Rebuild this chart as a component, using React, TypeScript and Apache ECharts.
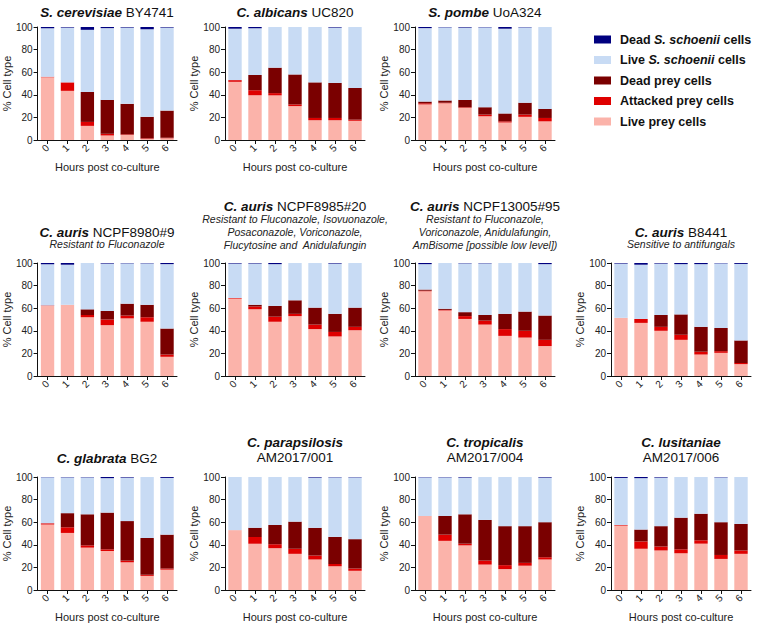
import React, { useEffect, useRef } from "react";
import * as echarts from "echarts";

const HOURS = ["0", "1", "2", "3", "4", "5", "6"];

// Each panel: live prey, attacked prey, dead prey, live S. schoenii, dead S. schoenii (%)
const scerLive = [55.5, 43.5, 12.5, 4, 4.5, 1, 1.5];
const scerAtt = [0.5, 7.5, 3.5, 1.5, 0.5, 0.5, 0.5];
const scerDead = [0, 0, 26.5, 30, 27, 19, 24];
const scerLiveS = [43, 48.5, 55, 63.5, 67.5, 77.5, 73.5];
const scerDeadS = [1, 0.5, 2.5, 1, 0.5, 2, 0.5];

const albLive = [51.5, 39.5, 39.5, 30, 17.5, 17.5, 17];
const albAtt = [1.5, 4.5, 2, 1.5, 2, 2, 1];
const albDead = [0, 13.5, 22.5, 26.5, 31.5, 31, 28];
const albLiveS = [45.5, 41.5, 36, 42, 49, 49, 54];
const albDeadS = [1.5, 1, 0, 0, 0, 0.5, 0];

const pomLive = [31.5, 32.5, 28.5, 21, 15.5, 20.5, 16.5];
const pomAtt = [1, 0.5, 0.5, 1.5, 1, 2, 3];
const pomDead = [1.5, 2, 6.5, 6.5, 7, 10.5, 8];
const pomLiveS = [65, 64.7, 64, 70.7, 75, 66.7, 72.5];
const pomDeadS = [1, 0.3, 0.5, 0.3, 1.5, 0.3, 0];

const a8980Live = [62, 63, 52, 45, 51, 48, 17];
const a8980Att = [0.5, 0, 2, 5, 2.5, 4, 2];
const a8980Dead = [0, 0, 5, 7.5, 10.5, 11, 23];
const a8980LiveS = [36.5, 35.5, 41, 42, 35.7, 36.7, 57];
const a8980DeadS = [1, 1.5, 0, 0.5, 0.3, 0.3, 1];

const a8985Live = [68.5, 59, 48, 53, 41.5, 35, 40.5];
const a8985Att = [0.5, 2.5, 4.5, 2, 4, 4, 3];
const a8985Dead = [0, 1.5, 9.5, 12, 15, 16, 17];
const a8985LiveS = [30.5, 36.5, 37, 33, 39.5, 44.5, 39.5];
const a8985DeadS = [0.5, 0.5, 1, 0, 0, 0.5, 0];

const a13005Live = [75, 58, 50.5, 45.5, 35.5, 34, 26.5];
const a13005Att = [0.5, 0.5, 2.5, 3.5, 6, 6, 5.5];
const a13005Dead = [1, 1, 3.5, 5, 13.5, 17, 21.5];
const a13005LiveS = [22.5, 40.5, 43.2, 45.7, 45, 43, 45.5];
const a13005DeadS = [1, 0, 0.3, 0.3, 0, 0, 1];

const b8441Live = [51.5, 47, 40, 32, 19, 20.5, 10.5];
const b8441Att = [0, 3.5, 3.5, 4.5, 2.5, 1.5, 1];
const b8441Dead = [0, 0, 10.5, 18, 22, 20.5, 20];
const b8441LiveS = [48, 48, 45.5, 44.5, 55.5, 57.2, 67.7];
const b8441DeadS = [0.5, 1.5, 0.5, 1, 1, 0.3, 0.8];

const glaLive = [58, 50.5, 37.5, 34.5, 24.5, 12.5, 18];
const glaAtt = [1, 5, 2, 1.5, 1.5, 1, 1];
const glaDead = [0, 12.5, 27.5, 32.5, 35, 32.5, 30];
const glaLiveS = [40.7, 31.7, 32.7, 30.5, 38.5, 54, 50.2];
const glaDeadS = [0.3, 0.3, 0.3, 1, 0.5, 0, 0.8];

const parLive = [53, 41, 37, 32, 27, 21, 17];
const parAtt = [0, 6, 3.5, 4.5, 3.5, 2, 2];
const parDead = [0, 8, 17, 24, 24.5, 24, 26];
const parLiveS = [47, 45, 42.5, 39.5, 44.5, 52.7, 54.7];
const parDeadS = [0, 0, 0, 0, 0.5, 0.3, 0.3];

const troLive = [65.5, 43.5, 39.5, 22.5, 18.5, 21.5, 27];
const troAtt = [0, 5.5, 1.5, 3.5, 3.5, 2.5, 2];
const troDead = [0, 16.5, 26, 36, 34.5, 32.5, 31];
const troLiveS = [34.2, 34.2, 32.5, 38, 43.5, 43.5, 39.5];
const troDeadS = [0.3, 0.3, 0.5, 0, 0, 0, 0.5];

const lusLive = [57, 36.5, 35, 32.5, 41, 27.5, 32];
const lusAtt = [0.5, 6.5, 3.5, 3.5, 3, 3.5, 3];
const lusDead = [0, 10.5, 18, 28, 23.5, 29, 23.5];
const lusLiveS = [41.7, 45.5, 43, 36, 32.5, 39.7, 41.5];
const lusDeadS = [0.8, 1, 0.5, 0, 0, 0.3, 0];

const SERIES_NAMES = [
  "Live prey cells",
  "Attacked prey cells",
  "Dead prey cells",
  "Live S. schoenii cells",
  "Dead S. schoenii cells",
];
const LEGEND_ORDER = [
  "Dead S. schoenii cells",
  "Live S. schoenii cells",
  "Dead prey cells",
  "Attacked prey cells",
  "Live prey cells",
];
const COLORS = ["#fbb3aa", "#df0000", "#7a0000", "#c8dbf4", "#00007f"];

const PANEL_DATA = [
  [scerLive, scerAtt, scerDead, scerLiveS, scerDeadS],
  [albLive, albAtt, albDead, albLiveS, albDeadS],
  [pomLive, pomAtt, pomDead, pomLiveS, pomDeadS],
  [a8980Live, a8980Att, a8980Dead, a8980LiveS, a8980DeadS],
  [a8985Live, a8985Att, a8985Dead, a8985LiveS, a8985DeadS],
  [a13005Live, a13005Att, a13005Dead, a13005LiveS, a13005DeadS],
  [b8441Live, b8441Att, b8441Dead, b8441LiveS, b8441DeadS],
  [glaLive, glaAtt, glaDead, glaLiveS, glaDeadS],
  [parLive, parAtt, parDead, parLiveS, parDeadS],
  [troLive, troAtt, troDead, troLiveS, troDeadS],
  [lusLive, lusAtt, lusDead, lusLiveS, lusDeadS],
];

const SPECIES = [
  "S. cerevisiae", "C. albicans", "S. pombe",
  "C. auris", "C. auris", "C. auris", "C. auris",
  "C. glabrata", "C. parapsilosis", "C. tropicalis", "C. lusitaniae",
];
const STRAINS = [
  "BY4741", "UC820", "UoA324",
  "NCPF8980#9", "NCPF8985#20", "NCPF13005#95", "B8441",
  "BG2", "AM2017/001", "AM2017/004", "AM2017/006",
];
const SUBTITLES = [
  "", "", "",
  "Resistant to Fluconazole",
  "Resistant to Fluconazole, Isovuonazole,\nPosaconazole, Voriconazole,\nFlucytosine and  Anidulafungin",
  "Resistant to Fluconazole,\nVoriconazole, Anidulafungin,\nAmBisome [possible low level])",
  "Sensitive to antifungals",
  "", "", "", "",
];

// layout
const COL_LEFT = [37, 225, 415, 611];
const ROW_TOP = [27, 263, 477];
const GRID_W = 140;
const GRID_H = 113;
const PANEL_POS = [
  [0, 0], [0, 1], [0, 2],
  [1, 0], [1, 1], [1, 2], [1, 3],
  [2, 0], [2, 1], [2, 2], [2, 3],
];
const FONT = 'Arial, "Liberation Sans", Helvetica, sans-serif';

export default function App() {
  const ref = useRef<HTMLDivElement>(null);
  useEffect(() => {
    if (!ref.current) return;
    const chart = echarts.init(ref.current, undefined, { renderer: "svg" });
    const grid: any[] = [];
    const xAxis: any[] = [];
    const yAxis: any[] = [];
    const series: any[] = [];
    const graphic: any[] = [];

    function titleText(sp: string, st: string, x: number, y: number) {
      return {
        type: "text",
        x,
        y,
        style: {
          text: `{sp|${sp}} {st|${st}}`,
          align: "center",
          verticalAlign: "middle",
          fill: "#111",
          font: `13.5px ${FONT}`,
          rich: {
            sp: { fontStyle: "italic", fontWeight: "bold", fontSize: 13.5, fontFamily: FONT, fill: "#111" },
            st: { fontSize: 13.5, fontFamily: FONT, fill: "#111" },
          },
        },
      };
    }

    PANEL_DATA.forEach((pd, i) => {
      const [row, col] = PANEL_POS[i];
      const left = COL_LEFT[col];
      const top = ROW_TOP[row];
      grid.push({ left, top, width: GRID_W, height: GRID_H, containLabel: false });
      xAxis.push({
        type: "category",
        gridIndex: i,
        data: HOURS,
        axisLine: { lineStyle: { color: "#111", width: 1 } },
        axisTick: { show: true, alignWithLabel: true, length: 4, lineStyle: { color: "#111" } },
        axisLabel: { rotate: 45, fontSize: 10, color: "#222", fontFamily: FONT, margin: 6 },
        name: row === 1 ? "" : "Hours post co-culture",
        nameLocation: "middle",
        nameGap: 21,
        nameTextStyle: { fontSize: 11, color: "#222", fontFamily: FONT },
      });
      yAxis.push({
        type: "value",
        gridIndex: i,
        min: 0,
        max: 100,
        interval: 20,
        axisLine: { show: true, lineStyle: { color: "#111", width: 1 } },
        axisTick: { show: true, length: 4, lineStyle: { color: "#111" } },
        axisLabel: { fontSize: 10, color: "#222", fontFamily: FONT, margin: 5 },
        splitLine: { show: false },
        name: "% Cell type",
        nameLocation: "middle",
        nameGap: 24,
        nameTextStyle: { fontSize: 11, color: "#222", fontFamily: FONT },
      });
      pd.forEach((vals, s) => {
        series.push({
          type: "bar",
          name: SERIES_NAMES[s],
          xAxisIndex: i,
          yAxisIndex: i,
          stack: "p" + i,
          data: vals,
          barCategoryGap: "33%",
          itemStyle: { color: COLORS[s] },
          emphasis: { disabled: true },
        });
      });

      const cx = left + GRID_W / 2;
      if (row === 0) {
        graphic.push(titleText(SPECIES[i], STRAINS[i], cx, 12));
      } else if (row === 1) {
        const multi = SUBTITLES[i].includes("\n");
        graphic.push(titleText(SPECIES[i], STRAINS[i], cx, multi ? 206 : 232));
        graphic.push({
          type: "text",
          x: cx,
          y: multi ? 213 : 238,
          style: {
            text: SUBTITLES[i],
            font: `italic 10.5px ${FONT}`,
            fill: "#222",
            align: "center",
            verticalAlign: "top",
            lineHeight: 12.8,
          },
        });
      } else {
        if (col === 0) {
          graphic.push(titleText(SPECIES[i], STRAINS[i], cx, 458));
        } else {
          graphic.push({
            type: "text",
            x: cx,
            y: 442,
            style: {
              text: SPECIES[i],
              font: `italic bold 13.5px ${FONT}`,
              fill: "#111",
              align: "center",
              verticalAlign: "middle",
            },
          });
          graphic.push({
            type: "text",
            x: cx,
            y: 457.5,
            style: {
              text: STRAINS[i],
              font: `13.5px ${FONT}`,
              fill: "#111",
              align: "center",
              verticalAlign: "middle",
            },
          });
        }
      }
    });

    chart.setOption({
      animation: false,
      grid,
      xAxis,
      yAxis,
      series,
      graphic,
      legend: {
        orient: "vertical",
        left: 594,
        top: 33,
        padding: 0,
        itemWidth: 17,
        itemHeight: 8,
        itemGap: 7.5,
        icon: "rect",
        selectedMode: false,
        data: LEGEND_ORDER,
        formatter: (n: string) => n.replace("S. schoenii", "{i|S. schoenii}"),
        textStyle: {
          fontWeight: "bold",
          fontSize: 12.5,
          fontFamily: FONT,
          color: "#111",
          padding: [0, 0, 0, 4],
          rich: {
            i: { fontStyle: "italic", fontWeight: "bold", fontSize: 12.5, fontFamily: FONT, color: "#111" },
          },
        },
      },
    });
    return () => chart.dispose();
  }, []);
  return (
    <div
      ref={ref}
      style={{ position: "absolute", left: 0, top: 0, width: 760, height: 623 }}
    />
  );
}
